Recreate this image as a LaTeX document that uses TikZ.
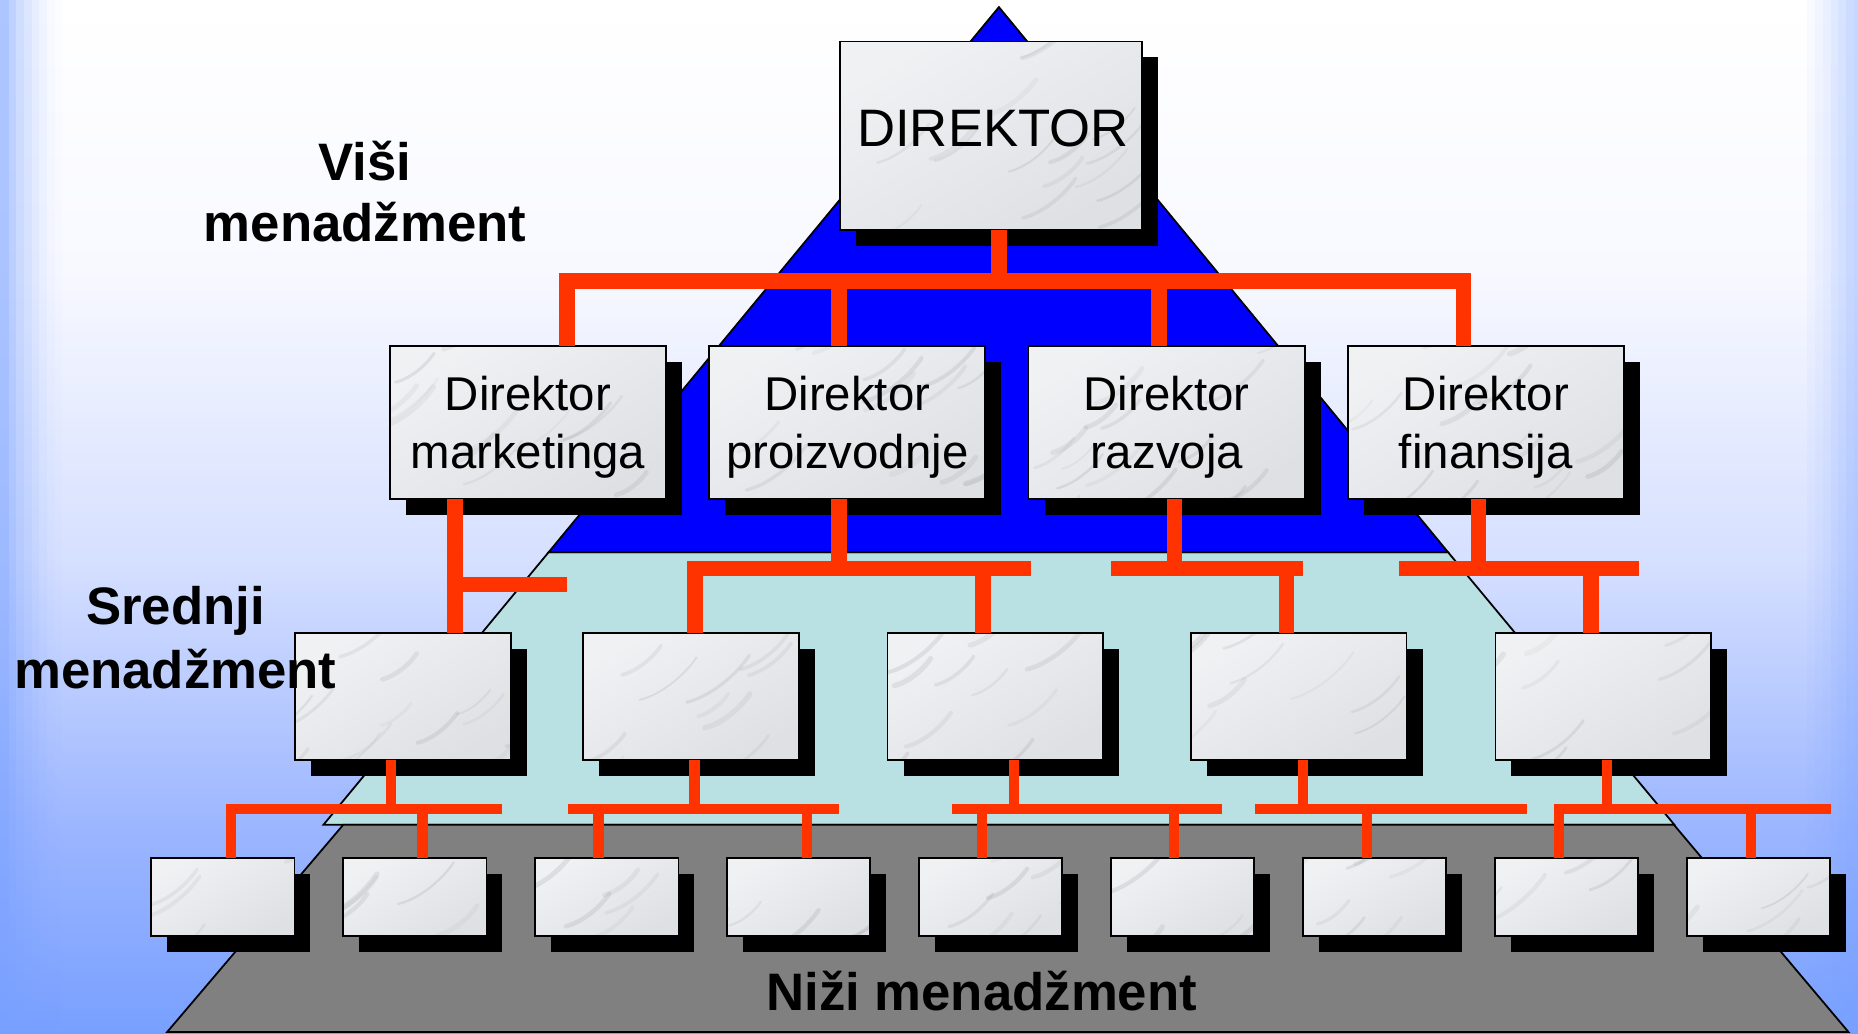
\documentclass[tikz,border=0pt]{standalone}
\usepackage{fontspec}
\setmainfont{Liberation Sans}
\usetikzlibrary{calc,shadows}
\definecolor{pblue}{HTML}{0000FF}
\definecolor{pcyan}{HTML}{B9E0E3}
\definecolor{pgray}{HTML}{808080}
\definecolor{cred}{HTML}{FF3300}
\definecolor{marbleA}{HTML}{F0F1F3}
\definecolor{marbleB}{HTML}{DFE0E4}
\definecolor{vein}{HTML}{8E9096}
\definecolor{bgbot}{HTML}{78A0FF}
\definecolor{bgA}{HTML}{9CB6FF}
\definecolor{bgB}{HTML}{D6E0FF}
\definecolor{bgC}{HTML}{F8F9FF}
\pgfdeclareverticalshading{bgsh}{100bp}{color(0bp)=(bgbot); color(25bp)=(bgbot); color(35bp)=(bgA); color(48bp)=(bgB); color(62bp)=(bgC); color(75bp)=(white); color(100bp)=(white)}
\pgfmathsetseed{11}
\begin{document}
\begin{tikzpicture}[x=1pt,y=-1pt,
  box/.style={draw=black, line width=1.5pt, top color=marbleA, bottom color=marbleB, shading angle=30,
    inner sep=0pt, outer sep=0pt,
    drop shadow={shadow xshift=13.5pt, shadow yshift=-13.5pt, opacity=1, fill=black},
    path picture={
      \foreach \i in {1,...,16}{
        \pgfmathsetmacro\vx{130*rand}
        \pgfmathsetmacro\vy{85*rand}
        \pgfmathsetmacro\vl{25+30*rnd}
        \pgfmathsetmacro\vo{0.08+0.12*rnd}
        \pgfmathsetmacro\vw{1.5+3*rnd}
        \draw[shift={(path picture bounding box.center)}, draw=vein, opacity=\vo, line width=\vw pt, line cap=round]
          (\vx,\vy) .. controls ++(0.4*\vl,-0.1*\vl) and ++(-0.2*\vl,0.3*\vl) .. ++(\vl,-0.75*\vl);
      }
    }},
  bxa/.style={box, minimum width=255pt, minimum height=159pt},
  bxb/.style={box, minimum width=233pt, minimum height=129pt},
  bxc/.style={box, minimum width=182pt, minimum height=107pt},
  bxd/.style={box, minimum width=121pt, minimum height=66pt},
  conn/.style={draw=cred, line width=13pt},
  connt/.style={draw=cred, line width=8.7pt},
  lvl/.style={font=\fontsize{44.5}{53}\selectfont\bfseries, anchor=base, inner sep=0pt},
  ttl/.style={font=\fontsize{44.5}{53}\selectfont, anchor=base, inner sep=0pt},
  sub/.style={font=\fontsize{40}{48}\selectfont, anchor=base, inner sep=0pt},
  band/.style={fill=bgbot, fill opacity=#1},
  edge/.style={draw=black, line width=1.5pt}]
\useasboundingbox (0,0) rectangle (1568,872);
% background
\fill[shading=bgsh] (0,0) rectangle (1568,872);
% left edge bands
\foreach \xa/\xb/\op in {0/7.6/0.6, 7.6/13.5/0.47, 13.5/20.3/0.35, 20.3/27/0.26, 27/33/0.18, 33/39.7/0.11, 39.7/46.4/0.05, 46.4/52.3/0.02}{
  \fill[band=\op] (\xa,0) rectangle (\xb,872);
}
% right edge bands
\foreach \xa/\xb/\op in {1564.6/1568/0.41, 1557.9/1564.6/0.37, 1551.1/1557.9/0.29, 1545.2/1551.1/0.23, 1538.2/1545.2/0.15, 1531.7/1538.2/0.1, 1524.7/1531.7/0.05}{
  \fill[band=\op] (\xa,0) rectangle (\xb,872);
}
% pyramid
\filldraw[edge, fill=pcyan] (463,466) -- (1222,466) -- (1413,696) -- (273,696) -- cycle;
\filldraw[edge, fill=pgray] (289.7,696) -- (1412.6,696) -- (1560,871) -- (141,871) -- cycle;
\filldraw[edge, fill=pblue] (843,6) -- (1222,466) -- (463,466) -- cycle;
% boxes
\node[bxa] (l1) at (836.5,114.5) {};
\node[bxb] (l2a) at (445.5,356.7) {};
\node[bxb] (l2b) at (715,356.7) {};
\node[bxb] (l2c) at (984.5,356.7) {};
\node[bxb] (l2d) at (1254,356.7) {};
\node[bxc] (l3a) at (340,588) {};
\node[bxc] (l3b) at (583,588) {};
\node[bxc] (l3c) at (840,588) {};
\node[bxc] (l3d) at (1096,588) {};
\node[bxc] (l3e) at (1353,588) {};
\node[bxd] (l4a) at (188,757) {};
\node[bxd] (l4b) at (350,757) {};
\node[bxd] (l4c) at (512,757) {};
\node[bxd] (l4d) at (674,757) {};
\node[bxd] (l4e) at (836,757) {};
\node[bxd] (l4f) at (998,757) {};
\node[bxd] (l4g) at (1160,757) {};
\node[bxd] (l4h) at (1322,757) {};
\node[bxd] (l4i) at (1484,757) {};
% texts in boxes
\node[ttl] (t1) at (838,124) {DIREKTOR};
\node[sub] (t2a) at (445.5,346.6) {Direktor};
\node[sub] (t2aa) at (445.5,395.2) {marketinga};
\node[sub] (t2b) at (715,346.6) {Direktor};
\node[sub] (t2bb) at (715,395.2) {proizvodnje};
\node[sub] (t2c) at (984.5,346.6) {Direktor};
\node[sub] (t2cc) at (984.5,395.2) {razvoja};
\node[sub] (t2d) at (1254,346.6) {Direktor};
\node[sub] (t2dd) at (1254,395.2) {finansija};
% connectors level 1 -> 2
\coordinate (j0) at (843,237);
\draw[conn] (l1.south -| j0) -- (j0);
\draw[conn, line join=miter] (l2a.north -| 478.5,0) |- (j0) -| (l2d.north -| 1235,0);
\draw[conn] (l2b.north -| 708,0) -- (708,0 |- j0);
\draw[conn] (l2c.north -| 978,0) -- (978,0 |- j0);
% level 2 -> 3
\coordinate (j1) at (384,493.5);
\draw[conn] (l2a.south -| j1) -- (l3a.north -| j1);
\draw[conn] (j1) -- (478.5,0 |- j1);
\coordinate (j2) at (708,480);
\draw[conn] (l2b.south -| j2) -- (j2);
\draw[conn, line join=miter] (l3b.north -| 586.4,0) |- (870,0 |- j2);
\draw[conn] (l3c.north -| 829.4,0) -- (829.4,0 |- j2);
\coordinate (j3) at (991,480);
\draw[conn] (l2c.south -| j3) -- (j3);
\draw[conn] (938,0 |- j3) -- (1099.4,0 |- j3);
\draw[conn] (l3d.north -| 1085.8,0) -- (1085.8,0 |- j3);
\coordinate (j4) at (1247.8,480);
\draw[conn] (l2d.south -| j4) -- (j4);
\draw[conn] (1180.5,0 |- j4) -- (1383,0 |- j4);
\draw[conn] (l3e.north -| 1342.6,0) -- (1342.6,0 |- j4);
% level 3 -> 4
\coordinate (k1) at (330,682.6);
\draw[connt] (l3a.south -| k1) -- (k1);
\draw[connt, line join=miter] (l4a.north -| 195,0) |- (424,0 |- k1);
\draw[connt] (l4b.north -| 356.6,0) -- (356.6,0 |- k1);
\coordinate (k2) at (586,682.6);
\draw[connt] (l3b.south -| k2) -- (k2);
\draw[connt] (479,0 |- k2) -- (708,0 |- k2);
\draw[connt] (l4c.north -| 505,0) -- (505,0 |- k2);
\draw[connt] (l4d.north -| 681,0) -- (681,0 |- k2);
\coordinate (k3) at (856,682.6);
\draw[connt] (l3c.south -| k3) -- (k3);
\draw[connt] (803,0 |- k3) -- (1031,0 |- k3);
\draw[connt] (l4e.north -| 829,0) -- (829,0 |- k3);
\draw[connt] (l4f.north -| 991,0) -- (991,0 |- k3);
\coordinate (k4) at (1099.7,682.6);
\draw[connt] (l3d.south -| k4) -- (k4);
\draw[connt] (1059,0 |- k4) -- (1288.6,0 |- k4);
\draw[connt] (l4g.north -| 1153.5,0) -- (1153.5,0 |- k4);
\coordinate (k5) at (1356,682.6);
\draw[connt] (l3e.south -| k5) -- (k5);
\draw[connt, line join=miter] (l4h.north -| 1315.7,0) |- (1545,0 |- k5);
\draw[connt] (l4i.north -| 1477.5,0) -- (1477.5,0 |- k5);
% level labels
\node[lvl] (v1) at (308,152) {Viši};
\node[lvl] (v2) at (308,204) {menadžment};
\node[lvl] (s1) at (148,527.4) {Srednji};
\node[lvl] (s2) at (148,581) {menadžment};
\node[lvl] (n1) at (828.5,853) {Niži menadžment};
\end{tikzpicture}
\end{document}
